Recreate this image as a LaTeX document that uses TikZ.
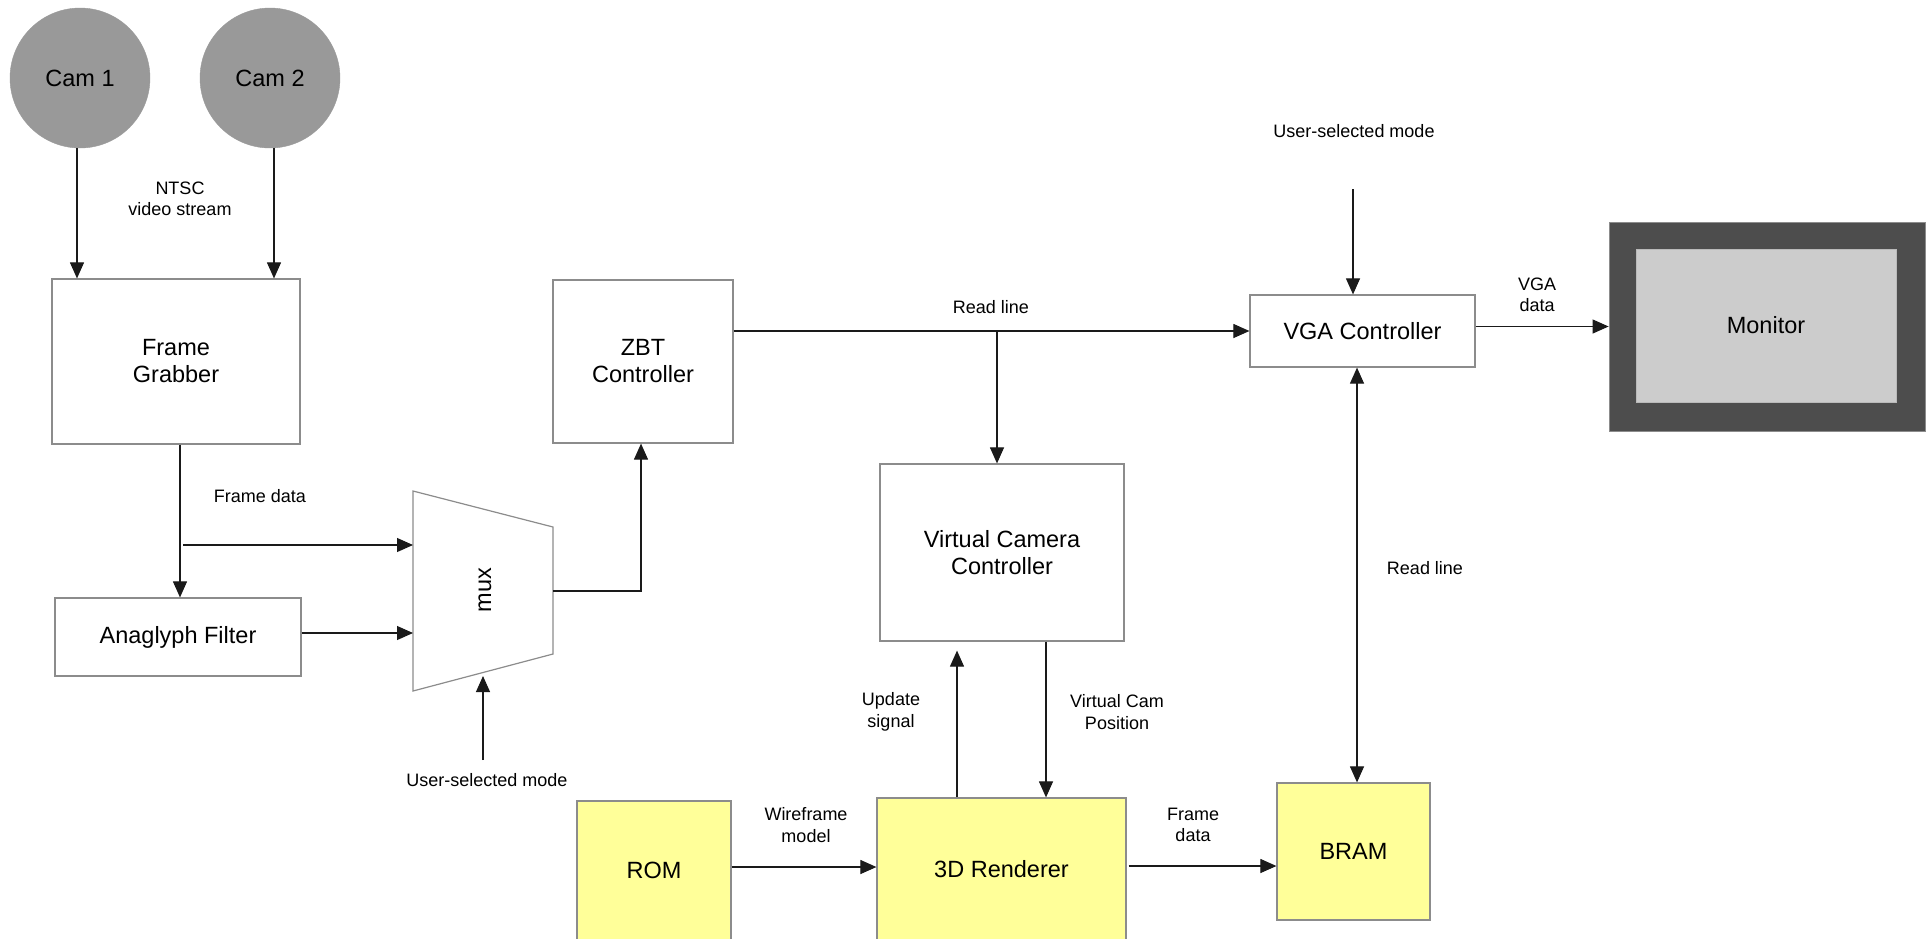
\documentclass[tikz,border=0pt]{standalone}
\usepackage{fontspec}
\setmainfont{Liberation Sans}
\usetikzlibrary{arrows.meta}
\definecolor{boxline}{HTML}{8C8C8C}
\definecolor{camfill}{HTML}{999999}
\definecolor{yel}{HTML}{FFFF99}
\definecolor{monouter}{HTML}{4D4D4D}
\definecolor{moninner}{HTML}{CCCCCC}
\definecolor{wire}{HTML}{1A1A1A}

\begin{document}
\begin{tikzpicture}[x=1pt,y=-1pt,
  big/.style={font=\fontsize{23.5}{27}\selectfont, align=center},
  small/.style={font=\fontsize{18}{21.5}\selectfont, align=center, inner sep=0pt},
  block/.style={big, draw=boxline, line width=1.2pt, fill=white, rectangle, inner sep=0pt},
  memblock/.style={block, fill=yel},
  cam/.style={big, circle, fill=camfill, draw=camfill, minimum size=140pt, inner sep=0pt},
  arr/.style={draw=wire, line width=1.1pt, -{Triangle[length=16pt,width=14pt]}},
  arrboth/.style={draw=wire, line width=1.1pt, {Triangle[length=16pt,width=14pt]}-{Triangle[length=16pt,width=14pt]}},
  wireline/.style={draw=wire, line width=1.1pt},
]
\useasboundingbox (0,0) rectangle (1932,938);
\clip (0,0) rectangle (1932,938);

% cameras
\node[cam] (cam1) at (80,78) {Cam 1};
\node[cam] (cam2) at (270,78) {Cam 2};

% processing blocks
\node[block, minimum width=248pt, minimum height=165pt] (fg) at (176,361.5) {Frame\\Grabber};
\node[block, minimum width=246pt, minimum height=78pt] (af) at (178,637) {Anaglyph Filter};
\node[block, minimum width=180pt, minimum height=163pt] (zbt) at (643,361.5) {ZBT\\Controller};
\node[block, minimum width=244pt, minimum height=177pt] (vcc) at (1002,552.5) {Virtual Camera\\Controller};
\node[block, minimum width=225pt, minimum height=72pt] (vga) at (1362.5,331) {VGA Controller};

% memories and renderer
\node[memblock, minimum width=153pt, minimum height=137pt] (bram) at (1353.5,851.5) {BRAM};
\node[memblock, minimum width=154pt, minimum height=139pt] (rom) at (654,870.5) {ROM};
\node[memblock, minimum width=249pt, minimum height=142pt] (ren) at (1001.5,869) {3D Renderer};

% monitor
\node[rectangle, fill=monouter, draw=boxline, line width=0.8pt, minimum width=316pt, minimum height=209pt] (monframe) at (1767,326.5) {};
\node[big, rectangle, fill=moninner, draw=boxline!60, line width=0.8pt, minimum width=260pt, minimum height=153pt, inner sep=0pt] (mon) at (1766,325.5) {Monitor};

% multiplexer
\coordinate (muxtl) at (413,491);
\coordinate (muxtr) at (553,527);
\coordinate (muxbr) at (553,654);
\coordinate (muxbl) at (413,691);
\draw[draw=boxline, line width=1.2pt, fill=white] (muxtl) -- (muxtr) -- (muxbr) -- (muxbl) -- cycle;
\node[big, rotate=90] (muxlbl) at (485,590) {mux};
\coordinate (muxin1) at (413,545);
\coordinate (muxin2) at (413,633);
\coordinate (muxout) at (553,591);
\coordinate (muxsel) at (483,676);
\coordinate (muxselsrc) at (483,760);

% labels
\node[small] (lntsc) at (180,199) {NTSC\\video stream};
\node[small] (lfd1) at (260,496) {Frame data};
\node[small] (lsel1) at (487,780) {User-selected mode};
\node[small] (lrd1) at (991,307) {Read line};
\node[small] (lsel2) at (1354,131) {User-selected mode};
\node[small] (lvga) at (1537,295) {VGA\\data};
\node[small] (lrd2) at (1425,568) {Read line};
\node[small] (lupd) at (891,712) {Update\\signal};
\node[small] (lvcp) at (1117,712) {Virtual Cam\\Position};
\node[small] (lwf) at (806,825) {Wireframe\\model};
\node[small] (lfd2) at (1193,825) {Frame\\data};

% helper points
\coordinate (vgaselsrc) at (1353,189);
\coordinate (rdsplit) at (997,331);
\coordinate (rdx) at (1357,0);
\coordinate (updx) at (957,0);
\coordinate (vcpx) at (1046,0);

% connectors
\draw[arr] ([xshift=-3pt]cam1.south) -- ([xshift=-3pt]cam1.south |- fg.north);
\draw[arr] ([xshift=4pt]cam2.south) -- ([xshift=4pt]cam2.south |- fg.north);
\draw[arr] ([xshift=4pt]fg.south) -- ([xshift=4pt]fg.south |- af.north);
\draw[arr] ([xshift=7pt]fg.south |- muxin1) -- (muxin1);
\draw[arr] (af.east |- muxin2) -- (muxin2);
\draw[arr] (muxselsrc) -- (muxsel);
\draw[arr] (muxout) -| ([xshift=-2pt]zbt.south);
\draw[arr] (zbt.east |- vga.west) -- (vga.west);
\draw[arr] (rdsplit) -- (rdsplit |- vcc.north);
\draw[arr] (vgaselsrc) -- (vgaselsrc |- vga.north);
\draw[arr] (vga.east |- monframe.west) -- (monframe.west);
\draw[arrboth] (rdx |- vga.south) -- (rdx |- bram.north);
\draw[arr] (updx |- ren.north) -- ([yshift=-9pt]updx |- vcc.south);
\draw[arr] (vcpx |- vcc.south) -- (vcpx |- ren.north);
\draw[arr] (rom.east |- 0,867) -- (ren.west |- 0,867);
\draw[arr] ([xshift=2pt]ren.east |- 0,866) -- (bram.west |- 0,866);
\end{tikzpicture}
\end{document}
